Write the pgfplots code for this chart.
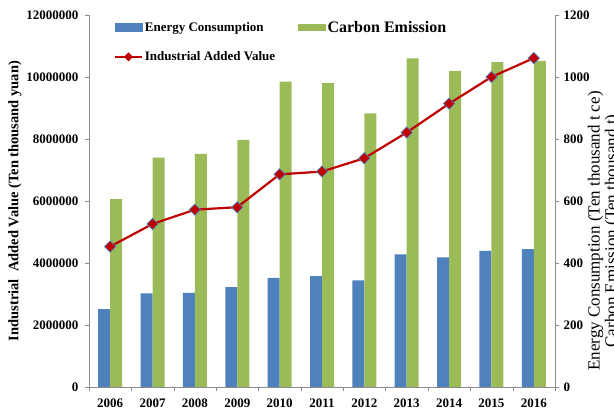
\documentclass[border=0pt]{standalone}
\usepackage{pgfplots}
\pgfplotsset{compat=1.18}
\usepackage{fontspec}
\setmainfont{Liberation Serif}
\definecolor{ecblue}{HTML}{4F81BD}
\definecolor{cegreen}{HTML}{9BBB59}
\definecolor{ivred}{HTML}{C00000}
\definecolor{axgray}{HTML}{8C8C8C}

\pgfplotsset{
  common/.style={
    at={(89pt,25pt)}, anchor=south west,
    scale only axis, width=466pt, height=372pt,
    xmin=-0.5, xmax=10.5,
    tick align=outside, major tick length=4pt, minor tick length=4pt,
    axis line style={axgray}, tick style={axgray},
    /pgf/number format/assume math mode=true,
    /pgf/number format/1000 sep={},
    ticklabel style={font=\fontsize{13}{13}\selectfont\bfseries, text=black},
  },
}

\begin{document}
\begin{tikzpicture}
\useasboundingbox (0,0) rectangle (614pt,412pt);
\clip (0,0) rectangle (614pt,412pt);

% bars on the right axis
\begin{axis}[common,
  ymin=0, ymax=1200, ytick={0,200,...,1200},
  axis y line*=right, axis x line*=bottom,
  xtick={0,...,10},
  xticklabels={2006,2007,2008,2009,2010,2011,2012,2013,2014,2015,2016},
  xticklabel style={yshift=-4pt},
  major x tick style={draw=none},
  minor xtick={-0.5,0.5,...,10.5},
  yticklabel style={xshift=1pt},
]
\addplot[ybar, bar width=12pt, bar shift=-6pt, fill=ecblue, draw=none]
  coordinates {(0,251) (1,302) (2,304) (3,322) (4,352) (5,358) (6,344) (7,428) (8,418) (9,439) (10,445)};
\addplot[ybar, bar width=12pt, bar shift=6pt, fill=cegreen, draw=none]
  coordinates {(0,606) (1,740) (2,752) (3,797) (4,985) (5,980) (6,883) (7,1060) (8,1020) (9,1048) (10,1052)};
\end{axis}

% line on the left axis
\begin{axis}[common,
  ymin=0, ymax=12000000,
  ytick={0,2000000,4000000,6000000,8000000,10000000,12000000},
  scaled y ticks=false,
  yticklabel style={/pgf/number format/fixed, xshift=-3pt},
  axis y line*=left, axis x line=none,
  legend style={at={(0.047,0.995)}, anchor=north west, draw=none, fill=none,
    font=\fontsize{13}{13}\selectfont\bfseries,
    /tikz/every even column/.append style={column sep=21pt},
    row sep=14pt},
  legend columns=2,
  legend cell align=left,
]
\addlegendimage{legend image code/.code={\fill[ecblue] (0pt,-4pt) rectangle (27pt,4pt);}}
\addlegendentry{Energy Consumption}
\addlegendimage{legend image code/.code={\fill[cegreen] (0pt,-3pt) rectangle (27pt,3pt);}}
\addlegendentry{\fontsize{16}{16}\selectfont Carbon Emission}
\addplot[ivred, line width=2.2pt, mark=square*, mark size=4pt,
  mark options={rotate=45, fill=ivred, draw=ecblue, line width=0.7pt},
  legend image code/.code={
    \draw[ivred, line width=1.8pt] (0pt,0pt) -- (27pt,0pt);
    \fill[ivred] (13.5pt,0pt) +(0,-3pt) -- +(3pt,0) -- +(0,3pt) -- +(-3pt,0) -- cycle;}]
  coordinates {(0,4530000) (1,5260000) (2,5720000) (3,5800000) (4,6860000) (5,6950000) (6,7380000) (7,8210000) (8,9140000) (9,10000000) (10,10610000)};
\addlegendentry{Industrial Added Value}
\end{axis}

\node[rotate=90, font=\fontsize{14.5}{14.5}\selectfont\bfseries] at (15pt,211pt)
  {Industrial~ Added Value (Ten thousand yuan)};
\node[rotate=90, align=center, font=\fontsize{17}{17}\selectfont] at (604pt,181pt)
  {Energy Consumption (Ten thousand t ce)\\Carbon Emission (Ten thousand t)};
\end{tikzpicture}
\end{document}
